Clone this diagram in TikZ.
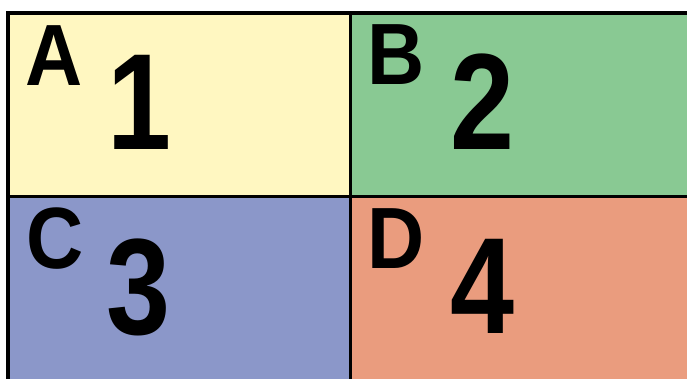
\documentclass[tikz,border=0pt]{standalone}
\usepackage{fontspec}
\setmainfont{Liberation Sans}
\definecolor{cellyellow}{RGB}{255,247,193}
\definecolor{cellgreen}{RGB}{137,201,147}
\definecolor{cellblue}{RGB}{139,151,201}
\definecolor{cellorange}{RGB}{234,156,126}
\newcommand{\letterbox}[1]{\scalebox{0.91}[1]{#1}}
\newcommand{\digitbox}[1]{\scalebox{0.84}[1]{#1}}
\tikzset{
  cell/.style={draw=black, line width=3.5pt},
  letter/.style={inner sep=0pt, anchor=base, font=\fontsize{87}{87}\selectfont\bfseries},
  digit/.style={inner sep=0pt, anchor=base, font=\fontsize{137}{137}\selectfont\bfseries}
}
\begin{document}
\begin{tikzpicture}[x=1pt,y=-1pt]
\useasboundingbox (0,0) rectangle (687,379);
\fill[white] (0,0) rectangle (687,379);
\clip (0,0) rectangle (687,379);
\draw[cell, fill=cellyellow] (8,13) rectangle (350.5,196.5);
\draw[cell, fill=cellgreen] (350.5,13) rectangle (720,196.5);
\draw[cell, fill=cellblue] (8,196.5) rectangle (350.5,420);
\draw[cell, fill=cellorange] (350.5,196.5) rectangle (720,420);
\node[letter] (la) at (54.5,86) {\letterbox{A}};
\node[letter] (lb) at (396,85) {\letterbox{B}};
\node[letter] (lc) at (55.5,268) {\letterbox{C}};
\node[letter] (ld) at (396,268) {\letterbox{D}};
\node[digit] (d1) at (139,150) {\digitbox{1}};
\node[digit] (d2) at (482,150) {\digitbox{2}};
\node[digit] (d3) at (138.5,334) {\digitbox{3}};
\node[digit] (d4) at (482.5,333) {\digitbox{4}};
\end{tikzpicture}
\end{document}
